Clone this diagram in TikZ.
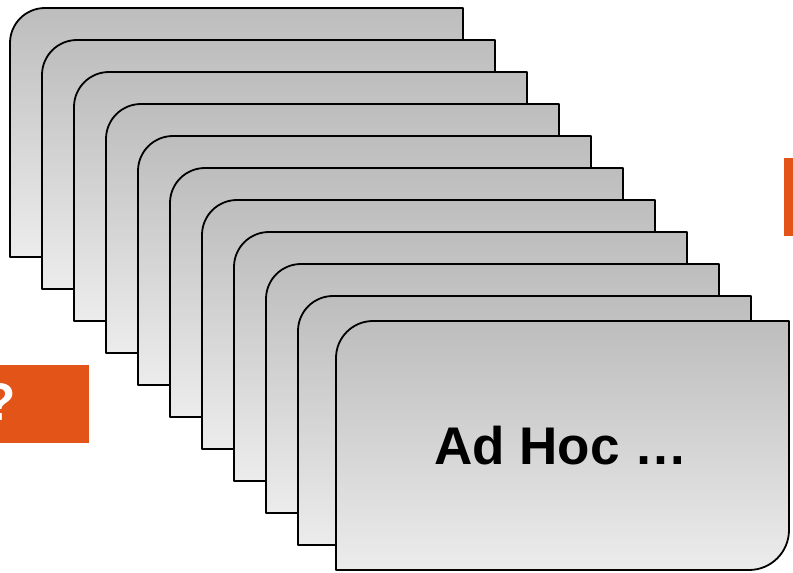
\documentclass[tikz,border=0pt]{standalone}
\usepackage{fontspec}
\setmainfont{Liberation Sans}
\definecolor{orng}{RGB}{226,84,23}
\definecolor{gtop}{RGB}{189,189,189}
\definecolor{gbot}{RGB}{236,236,236}
\begin{document}
\begin{tikzpicture}[x=1pt,y=-1pt,
  card/.style={draw=black,line width=1.8pt,top color=gtop,bottom color=gbot,line join=round},
  qtext/.style={text=white,font=\bfseries\fontsize{53}{60}\selectfont,inner sep=0pt},
  cardtext/.style={text=black,font=\bfseries\fontsize{53}{60}\selectfont,inner sep=0pt}]
\useasboundingbox (0,0) rectangle (793,573);
\clip (0,0) rectangle (793,573);
% right orange bar
\fill[orng] (784,158) rectangle (793,236);
% left orange box
\fill[orng] (-10,365) rectangle (89,443);
\node[qtext,anchor=base east] (q) at (16,420) {?};
% stacked cards
\foreach \i in {0,...,9}{
  \pgfmathsetmacro{\L}{10+32*\i}
  \pgfmathsetmacro{\T}{8+32*\i}
  \pgfmathsetmacro{\R}{\L+453}
  \pgfmathsetmacro{\B}{\T+249}
  \path[card] (\L,\B) -- (\L,\T+35) arc[start angle=180,end angle=270,radius=35] -- (\R,\T) -- (\R,\B) -- cycle;
}
% front card
\path[card] (336,570) -- (336,358) arc[start angle=180,end angle=270,radius=37] -- (789,321) -- (789,530) arc[start angle=0,end angle=90,radius=40] -- cycle;
\node[cardtext] (label) at (561,446) {Ad Hoc …};
\end{tikzpicture}
\end{document}
